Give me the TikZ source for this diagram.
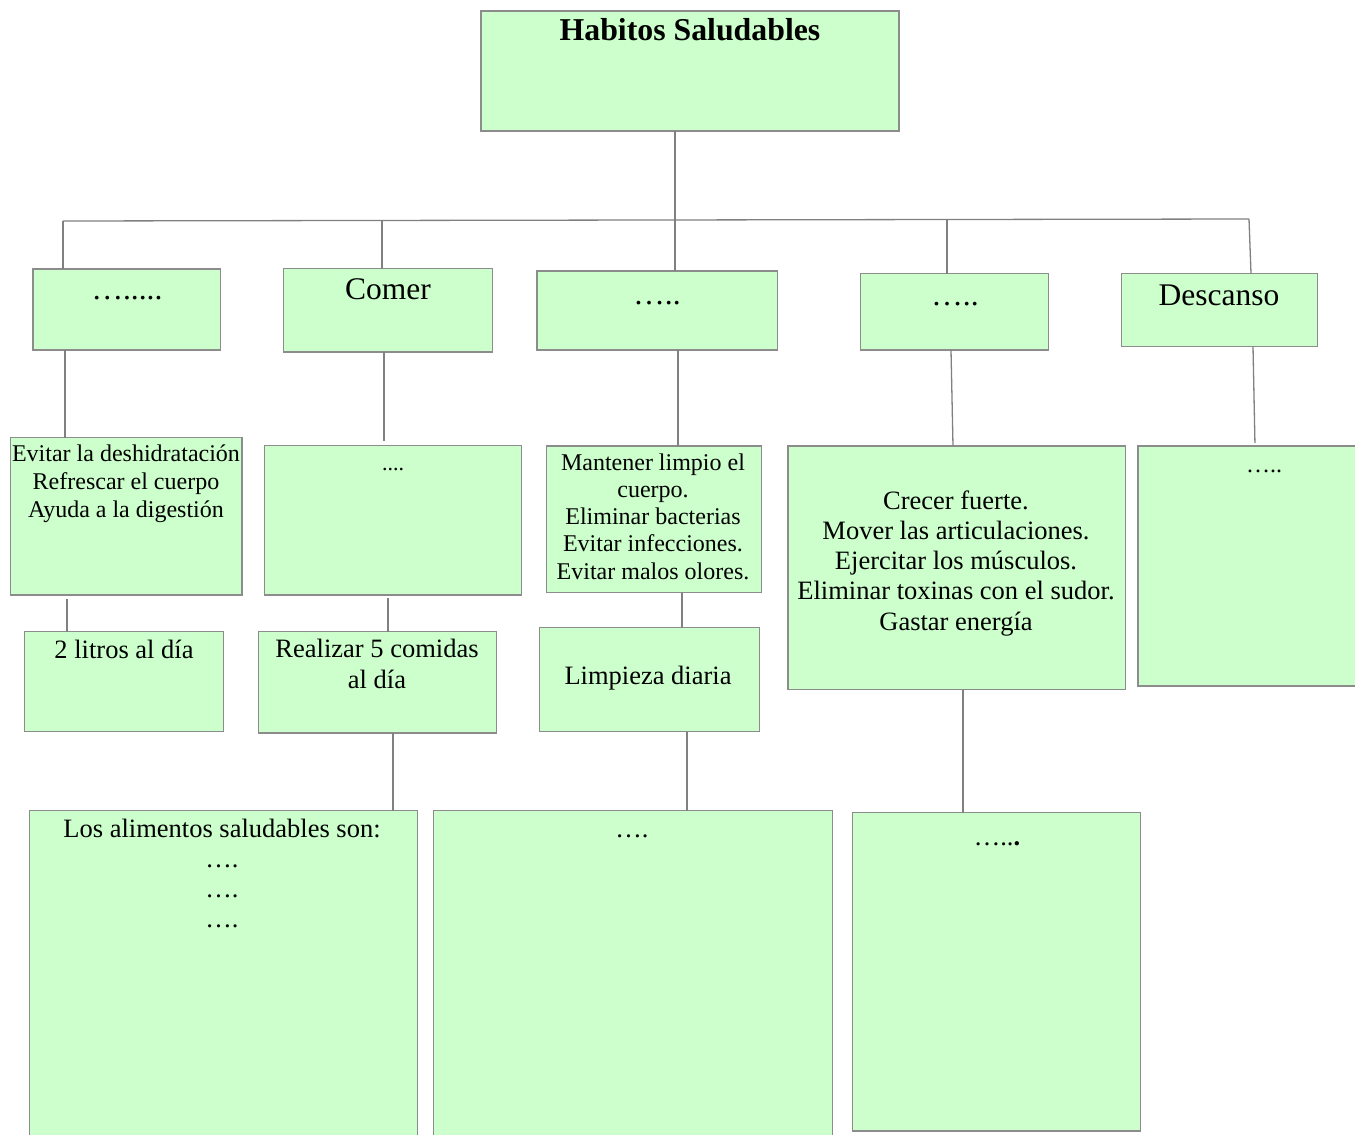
\documentclass[tikz,border=0pt]{standalone}
\usepackage{fontspec}
\setmainfont{Liberation Serif}
\definecolor{boxgreen}{RGB}{204,255,204}
\definecolor{bordergray}{RGB}{140,140,140}
\definecolor{linegray}{RGB}{128,128,128}
\tikzset{
  box/.style={rectangle, draw=bordergray, fill=boxgreen, line width=1.3pt, inner sep=0pt, outer sep=0pt},
  conn/.style={draw=linegray, line width=1.3pt},
  txt/.style={inner sep=0pt, outer sep=0pt, align=center, text=black, anchor=base},
  big/.style={font=\fontsize{31.5}{36}\selectfont},
  mid/.style={font=\fontsize{26.5}{30.5}\selectfont},
  small/.style={font=\fontsize{24}{28}\selectfont}
}
\newcommand{\mkbox}[5]{\node[box, minimum width={#4-#2}, minimum height={#5-#3}] (#1) at ({(#2+#4)/2},{(#3+#5)/2}) {};}
\begin{document}
\begin{tikzpicture}[x=1pt,y=-1pt]
\useasboundingbox (0,0) rectangle (1355,1135);
\clip (0,0) rectangle (1355,1135);
% boxes
\mkbox{top}{481}{11}{899}{131}
\mkbox{A}{33}{269}{220.5}{350}
\mkbox{Comer}{283.5}{268.5}{492.5}{352}
\mkbox{C}{537}{271}{777.5}{350}
\mkbox{D}{860.5}{273.5}{1048.5}{350}
\mkbox{Des}{1121.5}{273.5}{1317.5}{346.5}
\mkbox{E}{10.5}{437.5}{242}{595}
\mkbox{F}{264.5}{445.5}{521.5}{595}
\mkbox{G}{546.5}{446}{761.5}{592.5}
\mkbox{H}{788}{446}{1125.5}{689.5}
\mkbox{I}{1138}{446}{1370}{686}
\mkbox{J}{24.5}{631.5}{223.5}{731.5}
\mkbox{K}{258.5}{631.5}{496.5}{733}
\mkbox{L}{539.5}{627.5}{759.5}{731.5}
\mkbox{M}{852.5}{812.5}{1140.5}{1131}
\mkbox{N}{29.5}{810.5}{417.5}{1150}
\mkbox{O}{433.5}{810.5}{832.5}{1150}
% connectors
\coordinate (bl) at (63,221);
\coordinate (br) at (1249,219);
\coordinate (b2) at (382,220.5);
\coordinate (b4) at (947,219.5);
\draw[conn] (bl) -- (br);
\draw[conn] (top.south -| 675,0) -- (C.north -| 675,0);
\draw[conn] (bl) -- (A.north -| bl);
\draw[conn] (b2) -- (Comer.north -| b2);
\draw[conn] (b4) -- (D.north -| b4);
\draw[conn] (br) -- (Des.north -| 1251,0);
\draw[conn] (A.south -| 65,0) -- (E.north -| 65,0);
\draw[conn, shorten >=5pt] (Comer.south -| 384,0) -- (F.north -| 384,0);
\draw[conn] (C.south -| 678,0) -- (G.north -| 678,0);
\draw[conn] (D.south -| 951,0) -- (H.north -| 953,0);
\draw[conn, shorten >=3pt] (Des.south -| 1253,0) -- (I.north -| 1255,0);
\draw[conn, shorten <=4pt] (E.south -| 67,0) -- (J.north -| 67,0);
\draw[conn, shorten <=3pt] (F.south -| 388,0) -- (K.north -| 388,0);
\draw[conn] (G.south -| 682,0) -- (L.north -| 682,0);
\draw[conn] (H.south -| 963,0) -- (M.north -| 963,0);
\draw[conn] (K.south -| 393,0) -- (N.north -| 393,0);
\draw[conn] (L.south -| 687,0) -- (O.north -| 687,0);
% texts (multi-line nodes are placed at the baseline of their last line)
\node[txt, font=\fontsize{31.8}{36}\bfseries] (topt) at (690,40) {Habitos Saludables};
\node[txt, big] (At) at (127,299) {….....};
\node[txt, big] (Comert) at (388,299) {Comer};
\node[txt, big] (Ct) at (657,304) {…..};
\node[txt, big] (Dt) at (955,305) {…..};
\node[txt, big] (Dest) at (1219,305) {Descanso};
\node[txt, small] (Et) at (126,517) {Evitar la deshidratación\\Refrescar el cuerpo\\Ayuda a la digestión};
\node[txt, font=\fontsize{22}{26}\selectfont] (Ft) at (393,470) {....};
\node[txt, font=\fontsize{24}{27.3}\selectfont] (Gt) at (653,579.2) {Mantener limpio el\\cuerpo.\\Eliminar bacterias\\Evitar infecciones.\\Evitar malos olores.};
\node[txt, font=\fontsize{26.5}{30.3}\selectfont] (Ht) at (956,630.2) {Crecer fuerte.\\Mover las articulaciones.\\Ejercitar los músculos.\\Eliminar toxinas con el sudor.\\Gastar energía};
\node[txt, small] (It) at (1264,472) {…..};
\node[txt, mid] (Jt) at (124,658) {2 litros al día};
\node[txt, font=\fontsize{26.5}{31}\selectfont] (Kt) at (377,688) {Realizar 5 comidas\\al día};
\node[txt, mid] (Lt) at (648,684) {Limpieza diaria};
\node[txt, mid] (Mt) at (997,845) {…..\textbf{.}};
\node[txt, font=\fontsize{26.5}{30}\selectfont] (Nt) at (222,927) {Los alimentos saludables son:\\….\\….\\….};
\node[txt, mid] (Ot) at (632,837) {….};
\end{tikzpicture}
\end{document}
